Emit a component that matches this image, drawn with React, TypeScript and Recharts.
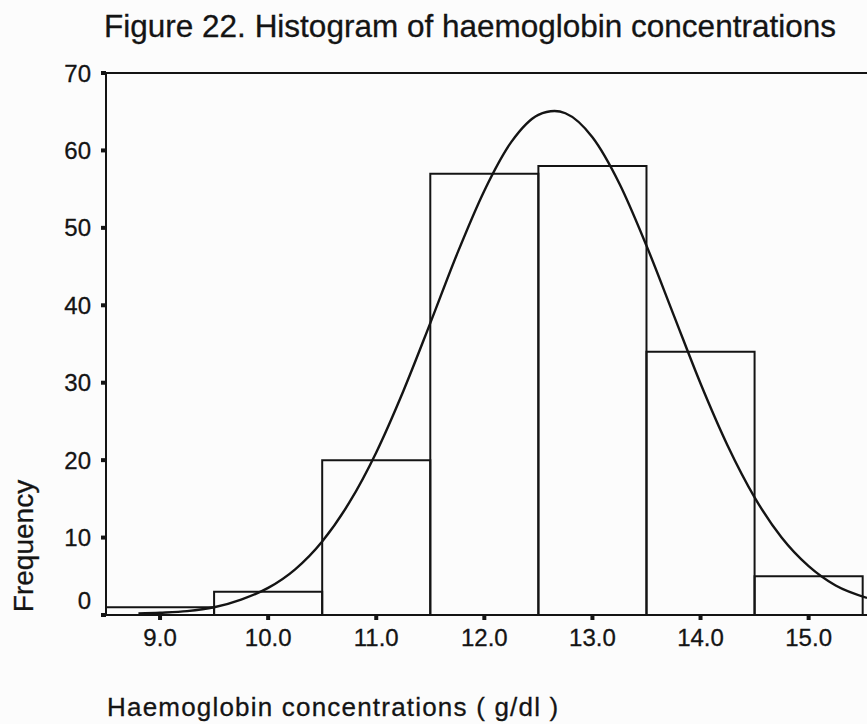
import React from "react";
import {
  ComposedChart,
  Line,
  XAxis,
  YAxis,
  ReferenceArea,
  ReferenceLine,
} from "recharts";

// Histogram bins (bin centres, g/dl) and their frequencies
const binCentres = [9, 10, 11, 12, 13, 14, 15];
const frequencies = [1, 3, 20, 57, 58, 34, 5];

// Fitted normal curve
const curveX = [
  8.8, 9.0, 9.25, 9.5, 9.75, 10.0, 10.25, 10.5, 10.75, 11.0, 11.25, 11.5,
  11.75, 12.0, 12.25, 12.5, 12.65, 12.75, 13.0, 13.25, 13.5, 13.75, 14.0,
  14.25, 14.5, 14.75, 15.0, 15.25, 15.54,
];
const curveY = [
  0.2, 0.3, 0.5, 1.0, 2.0, 3.5, 5.9, 9.5, 14.5, 21.0, 28.9, 37.7, 46.7, 54.8,
  61.1, 64.6, 65.1, 64.8, 61.7, 55.7, 47.7, 38.8, 29.9, 21.9, 15.2, 10.0, 6.3,
  3.8, 2.2,
];

const xTicks = [9, 10, 11, 12, 13, 14, 15];
const yTicks = [0, 10, 20, 30, 40, 50, 60, 70];

const titleText = "Figure 22. Histogram of haemoglobin concentrations";
const xTitle = "Haemoglobin concentrations ( g/dl )";
const yTitle = "Frequency";

const FONT = '"Liberation Sans", Arial, Helvetica, sans-serif';
const INK = "#141414";

const curveData = curveX.map((x, i) => ({ x, y: curveY[i] }));

function YTick(props: any) {
  const { x, y, payload } = props;
  const off = payload.value === 0 ? -15 : 0;
  return (
    <text
      x={x}
      y={y + off}
      dy="0.355em"
      textAnchor="end"
      fontSize={24}
      fontFamily={FONT}
      fill={INK}
      stroke={INK}
      strokeWidth={0.3}
    >
      {payload.value}
    </text>
  );
}

function XTick(props: any) {
  const { x, y, payload } = props;
  return (
    <text
      x={x}
      y={y}
      dy="0.71em"
      textAnchor="middle"
      fontSize={24}
      fontFamily={FONT}
      fill={INK}
      stroke={INK}
      strokeWidth={0.3}
    >
      {Number(payload.value).toFixed(1)}
    </text>
  );
}

export default function App() {
  return (
    <div
      style={{
        position: "absolute",
        left: 0,
        top: 0,
        width: 867,
        height: 724,
        background: "#fcfcfc",
        overflow: "hidden",
      }}
    >
      <ComposedChart
        width={867}
        height={724}
        data={curveData}
        margin={{ top: 73, right: 0, left: 0, bottom: 69 }}
      >
        <XAxis
          dataKey="x"
          type="number"
          domain={[8.5, 15.54]}
          allowDataOverflow
          ticks={xTicks}
          interval={0}
          height={40}
          axisLine={{ stroke: INK, strokeWidth: 2 }}
          tickLine={{ stroke: INK, strokeWidth: 4 }}
          tickSize={5}
          tickMargin={9}
          tick={<XTick />}
        />
        <YAxis
          type="number"
          domain={[0, 70]}
          allowDataOverflow
          ticks={yTicks}
          interval={0}
          width={106}
          axisLine={{ stroke: INK, strokeWidth: 2 }}
          tickLine={{ stroke: INK, strokeWidth: 4 }}
          tickSize={5}
          tickMargin={10}
          tick={<YTick />}
        />
        <ReferenceLine y={70} stroke={INK} strokeWidth={2} ifOverflow="extendDomain" />
        {binCentres.map((c, i) => (
          <ReferenceArea
            key={c}
            x1={c - 0.5}
            x2={c + 0.5}
            y1={0}
            y2={frequencies[i]}
            fill="none"
            fillOpacity={0}
            stroke={INK}
            strokeWidth={2}
            strokeOpacity={1}
            ifOverflow="visible"
          />
        ))}
        <Line
          type="monotone"
          dataKey="y"
          stroke={INK}
          strokeWidth={2.4}
          dot={false}
          isAnimationActive={false}
        />
      </ComposedChart>
      <svg
        width={867}
        height={724}
        style={{ position: "absolute", left: 0, top: 0, pointerEvents: "none" }}
      >
        <text
          x={470}
          y={37}
          textAnchor="middle"
          fontSize={31.5}
          fontFamily={FONT}
          fill={INK}
          stroke={INK}
          strokeWidth={0.3}
        >
          {titleText}
        </text>
        <text
          x={107}
          y={716}
          fontSize={26}
          letterSpacing={1.2}
          fontFamily={FONT}
          fill={INK}
          stroke={INK}
          strokeWidth={0.3}
        >
          {xTitle}
        </text>
        <text
          transform="translate(33,546) rotate(-90)"
          textAnchor="middle"
          fontSize={28}
          fontFamily={FONT}
          fill={INK}
          stroke={INK}
          strokeWidth={0.3}
        >
          {yTitle}
        </text>
      </svg>
    </div>
  );
}
